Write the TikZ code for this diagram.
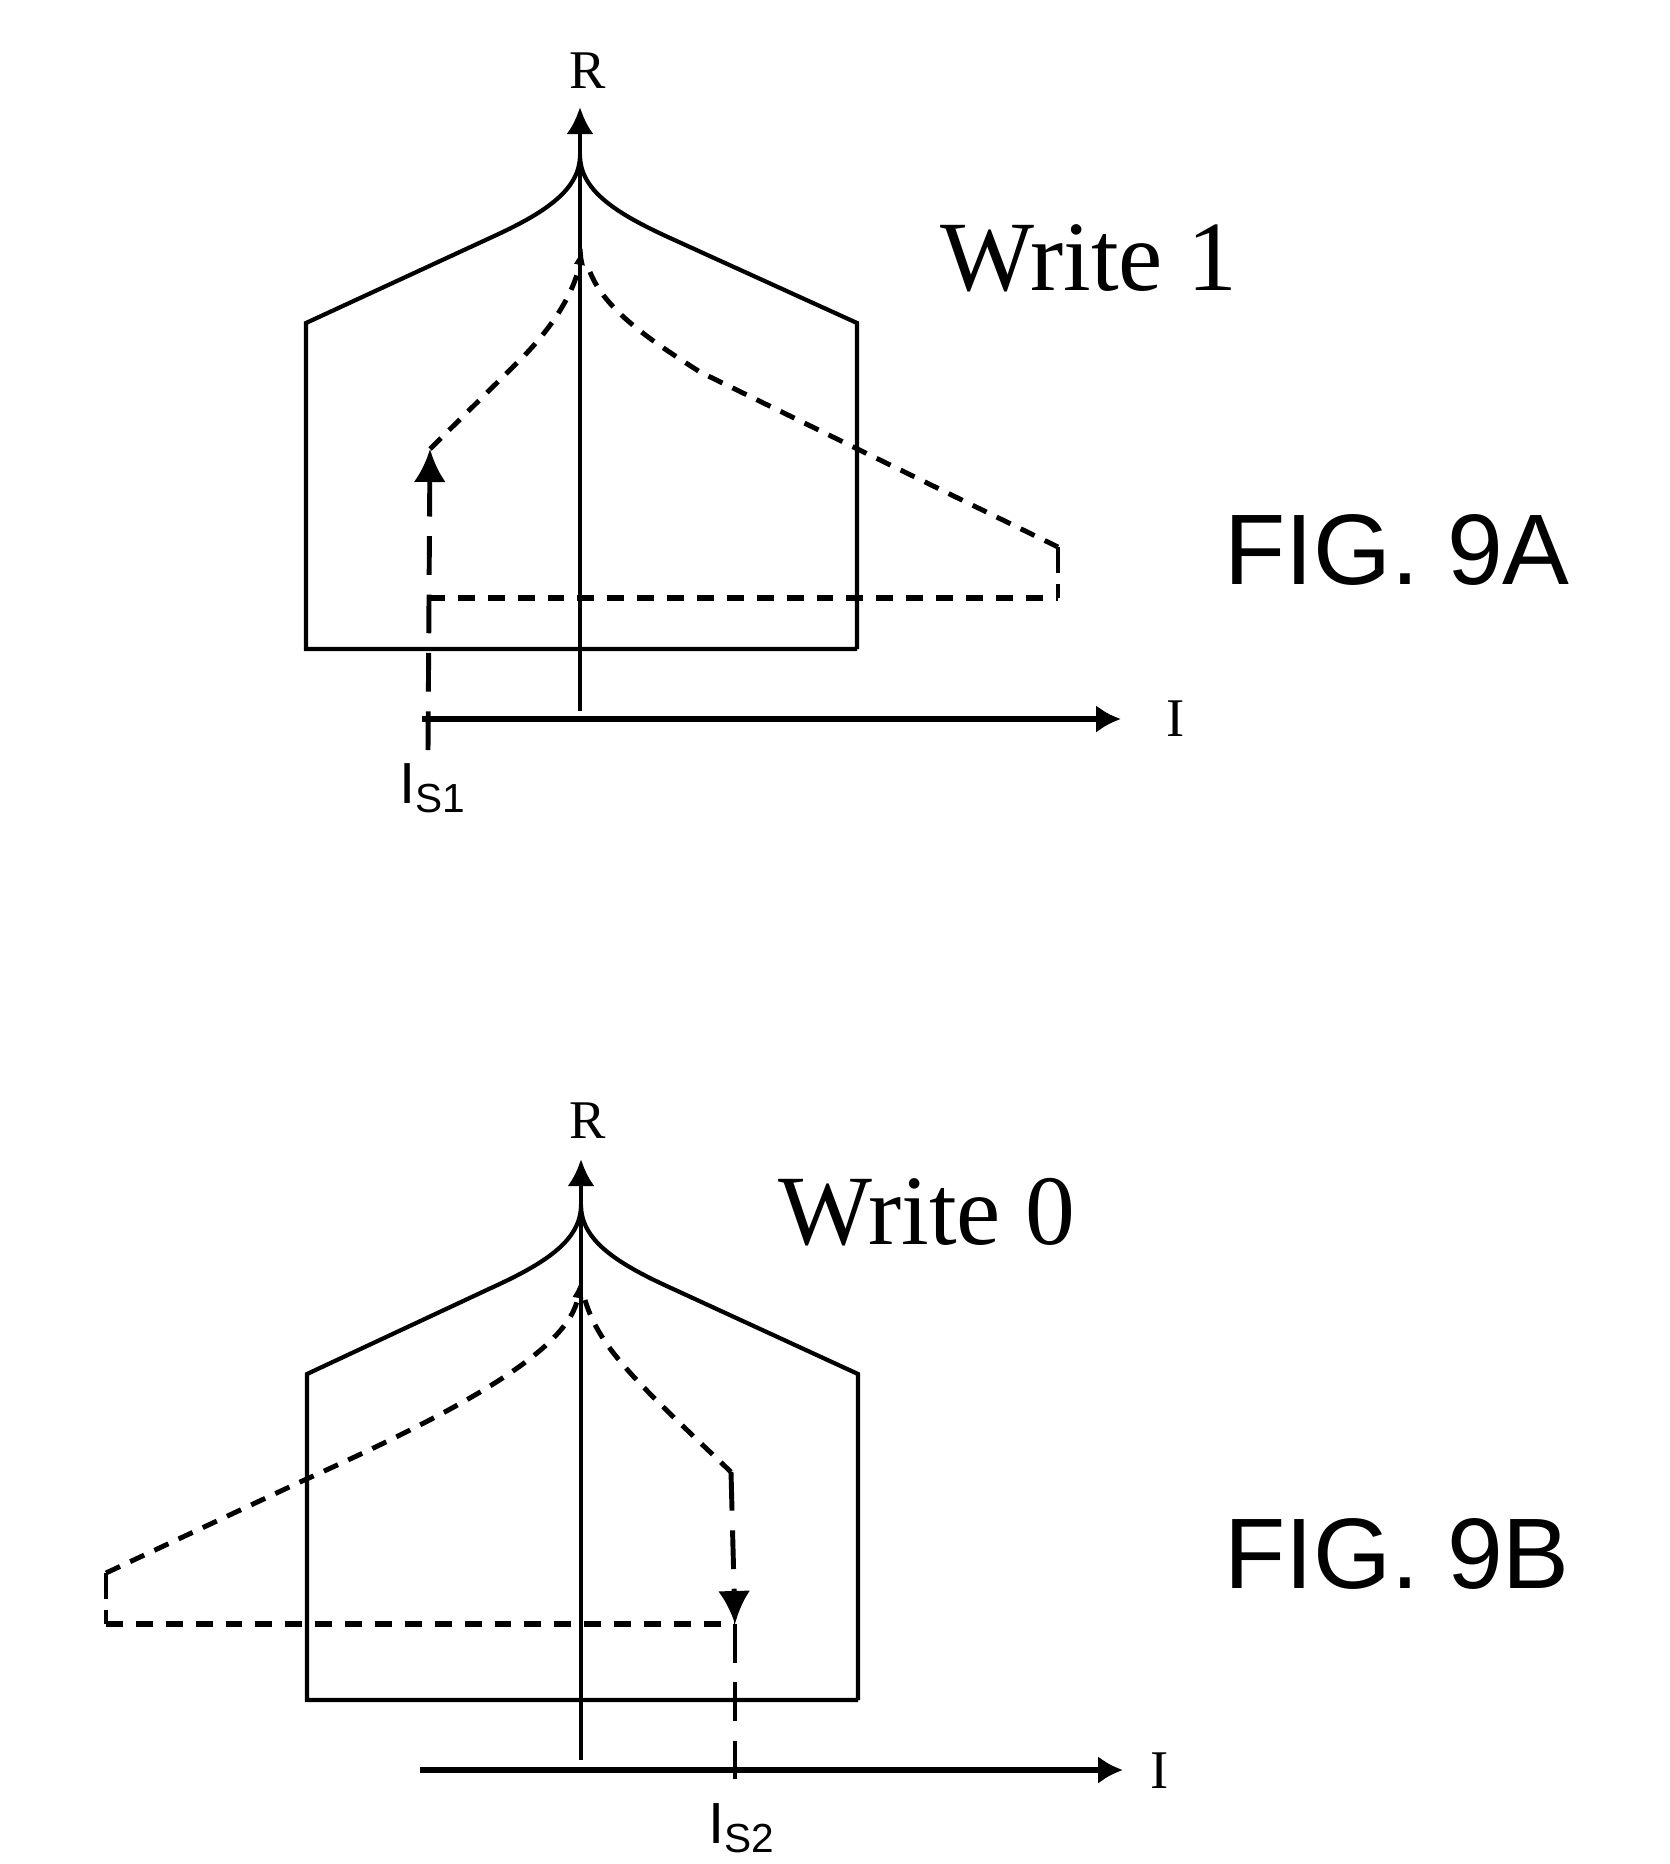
\documentclass[tikz,border=0pt]{standalone}
\usepackage{fontspec}
\setmainfont{Liberation Serif}
\newfontfamily\figfont{Liberation Sans}
\usetikzlibrary{arrows.meta}
\begin{document}
\begin{tikzpicture}
		[	x=0.01cm,y=-0.01cm,
		curve/.style={line width=1.2pt},
		axis/.style={line width=1.3pt,-{Latex[length=0.27cm,width=0.27cm]}},
		thickaxis/.style={line width=1.8pt,-{Latex[length=0.25cm,width=0.28cm]}},
		sweep/.style={line width=1.4pt,dash pattern=on 4.4pt off 3.2pt},
		sweeptip/.style={sweep,-{Latex[length=0.2cm,width=0.11cm]}},
		flat/.style={line width=1.8pt,dash pattern=on 4.8pt off 3.7pt},
		corner/.style={line width=1.3pt,dash pattern=on 7.5pt off 3pt},
		level/.style={line width=1.4pt,dash pattern=on 11pt off 5.6pt},
		levelarrow/.style={level,-{Latex[length=0.33cm,width=0.32cm]}},
		plain/.style={draw=none,fill=none,inner sep=0pt},
		]
		\useasboundingbox (0,0) rectangle (1669,1864);

		% upper graph
		\coordinate (rbase1) at (580,711);
		\coordinate (rtip1) at (580,107);
		\coordinate (ibase1) at (422,719);
		\coordinate (itip1) at (1121,719);
		\coordinate (cusp1) at (580,155);
		\coordinate (boxla) at (306,323);
		\coordinate (boxlb) at (306,649);
		\coordinate (boxrb) at (857,649);
		\coordinate (boxra) at (857,323);
		\coordinate (kneela) at (490,238);
		\coordinate (kneelb) at (670,238);
		\coordinate (swtop1) at (583,245);
		\coordinate (swknee1) at (430,449);
		\coordinate (swout1) at (1058,547);
		\coordinate (swlow1) at (1058,598);
		\coordinate (swend1) at (428,598);
		\coordinate (isa) at (428,750);

		\draw[axis] (rbase1) -- (rtip1);
		\draw[thickaxis] (ibase1) -- (itip1);
		\draw[curve] (boxrb) -- (boxlb) -- (boxla) -- (kneela) .. controls (545,213) and (580,190) .. (cusp1)
			.. controls (580,190) and (615,213) .. (kneelb) -- (boxra) -- (boxrb);
		\draw[sweeptip] (swknee1) -- (520,360) .. controls (555,325) and (575,290) .. (swtop1);
		\draw[sweep] (590,272) .. controls (605,310) and (650,340) .. (700,372) -- (swout1);
		\draw[corner] (swout1) -- (swlow1);
		\draw[flat] (swend1) -- (swlow1);
		\draw[levelarrow] (isa) -- (swknee1);

		\node[plain] (rlabel1) at (588,71) {\fontsize{15.5}{18}\selectfont R};
		\node[plain] (ilabel1) at (1176,719) {\fontsize{15.5}{18}\selectfont I};
		\node[plain] (write1) at (1089,258) {\fontsize{28.3}{34}\selectfont Write 1};
		\node[plain] (fig1) at (1397,550) {\figfont\fontsize{28.5}{32}\selectfont FIG. 9A};
		\node[plain] (is1) at (433,788) {\figfont\fontsize{16.5}{20}\selectfont I\textsubscript{S1}};

		% lower graph
		\coordinate (rbase2) at (581,1760);
		\coordinate (rtip2) at (581,1159);
		\coordinate (ibase2) at (420,1770);
		\coordinate (itip2) at (1123,1770);
		\coordinate (cusp2) at (581,1205);
		\coordinate (boxlc) at (307,1374);
		\coordinate (boxld) at (307,1700);
		\coordinate (boxrd) at (858,1700);
		\coordinate (boxrc) at (858,1374);
		\coordinate (kneelc) at (491,1288);
		\coordinate (kneeld) at (671,1288);
		\coordinate (swtop2) at (581,1278);
		\coordinate (swout2) at (106,1573);
		\coordinate (swlow2) at (106,1624);
		\coordinate (swknee2) at (731,1472);
		\coordinate (swend2) at (735,1624);
		\coordinate (isb) at (735,1789);

		\draw[axis] (rbase2) -- (rtip2);
		\draw[thickaxis] (ibase2) -- (itip2);
		\draw[curve] (boxrd) -- (boxld) -- (boxlc) -- (kneelc) .. controls (546,1263) and (581,1240) .. (cusp2)
			.. controls (581,1240) and (616,1263) .. (kneeld) -- (boxrc) -- (boxrd);
		\draw[sweeptip] (swout2) -- (300,1482) .. controls (460,1410) and (570,1350) .. (swtop2);
		\draw[sweep] (585,1300) .. controls (600,1350) and (640,1385) .. (swknee2);
		\draw[corner] (swout2) -- (swlow2);
		\draw[flat] (swlow2) -- (swend2);
		\draw[levelarrow] (swknee2) -- (swend2);
		\draw[level] (swend2) -- (isb);

		\node[plain] (rlabel2) at (588,1121) {\fontsize{15.5}{18}\selectfont R};
		\node[plain] (ilabel2) at (1160,1771) {\fontsize{15.5}{18}\selectfont I};
		\node[plain] (write2) at (927,1212) {\fontsize{28.3}{34}\selectfont Write 0};
		\node[plain] (fig2) at (1397,1554) {\figfont\fontsize{28.5}{32}\selectfont FIG. 9B};
		\node[plain] (is2) at (742,1828) {\figfont\fontsize{16.5}{20}\selectfont I\textsubscript{S2}};
	\end{tikzpicture}
\end{document}
